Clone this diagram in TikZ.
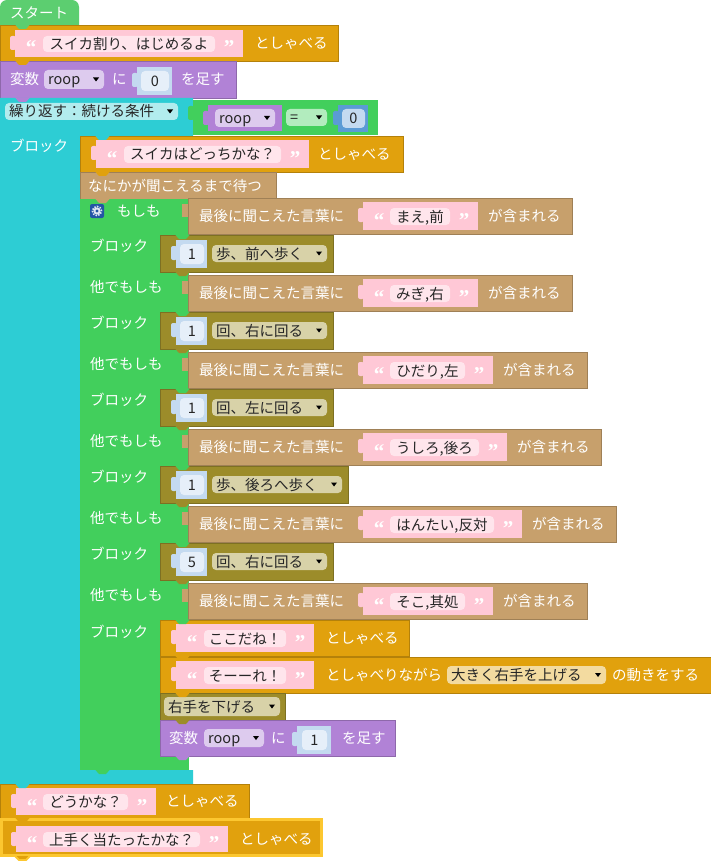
\documentclass[tikz,border=0pt]{standalone}
\usepackage{fontspec}
\setmainfont{Noto Sans CJK JP}
\newfontfamily\qfont{Liberation Serif}
\definecolor{cStart}{RGB}{92,206,112}
\definecolor{cOrange}{RGB}{225,161,13}
\definecolor{cPink}{RGB}{255,200,214}
\definecolor{cPinkF}{RGB}{255,229,236}
\definecolor{cPurple}{RGB}{177,130,214}
\definecolor{cPurpleF}{RGB}{221,203,238}
\definecolor{cCyan}{RGB}{45,205,212}
\definecolor{cCyanF}{RGB}{178,236,238}
\definecolor{cGreen}{RGB}{66,207,92}
\definecolor{cGreenF}{RGB}{178,236,190}
\definecolor{cTan}{RGB}{199,160,108}
\definecolor{cOlive}{RGB}{156,140,42}
\definecolor{cOliveF}{RGB}{216,210,168}
\definecolor{cNum}{RGB}{196,218,240}
\definecolor{cNumF}{RGB}{230,239,249}
\definecolor{cBlue}{RGB}{91,155,213}
\definecolor{cOrangeF}{RGB}{243,219,160}
\definecolor{cSel}{RGB}{252,199,48}
\definecolor{cGear}{RGB}{35,85,165}
\newcounter{nd}
\newcommand\xname{\stepcounter{nd}\edef\nn{n\arabic{nd}}}
% block rectangle
\newcommand\xblk[5]{\path[blk=#5] ({#1},{#2}) rectangle ({#3},{#4});}
% value block with left tab
\newcommand\xvblk[5]{\path[fill=#5,rounded corners=2pt] ({#1-5},{#2+6}) rectangle ({#1+1},{#2+20});\path[fill=#5] ({#1},{#2}) rectangle ({#3},{#4});}
% field with centred text
\newcommand\xfld[6]{\path[fill=#5,rounded corners=4pt] ({#1},{#2}) rectangle ({#3},{#4});\xname\node[ftext] (\nn) at ({(#1+#3)/2},{(#2+#4)/2}) {#6};}
% dropdown field
\newcommand\xdd[6]{\path[fill=#5,rounded corners=4pt] ({#1},{#2}) rectangle ({#3},{#4});\xname\node[ftext,anchor=west] (\nn) at ({#1+4},{(#2+#4)/2}) {#6};\fill[black] ({#3-11},{(#2+#4)/2-2}) -- ({#3-5},{(#2+#4)/2-2}) -- ({#3-8},{(#2+#4)/2+2}) -- cycle;}
% white label
\newcommand\xwl[3]{\xname\node[wtext] (\nn) at ({#1},{#2}) {#3};}
% quote mark
\newcommand\xqt[3]{\xname\node[qtext] (\nn) at ({#1},{#2+11.5}) {#3};}
% string block: pink left, y1, y2, field x1, field x2, text
\newcommand\xstr[6]{\xvblk{#1}{#2}{#5+28}{#3}{cPink}\xfld{#4}{#2+6}{#5}{#3-5}{cPinkF}{#6}\xqt{#1+16}{(#2+#3)/2}{“}\xqt{#5+14}{(#2+#3)/2}{”}}
% condition row: top, pink right, text
\newcommand\xcond[3]{\path[fill=cTan] (182,{#1+6}) rectangle (189,{#1+19});\xblk{188}{#1}{#2+94}{#1+36}{cTan}\xwl{199}{#1+18}{最後に聞こえた言葉に}\xstr{363}{#1+4}{#1+32}{390}{#2-28}{#3}\xwl{#2+10}{#1+18}{が含まれる}}
% olive action row: top, dropdown right, number, text
\newcommand\xorow[4]{\xblk{160}{#1}{#2+6}{#1+37}{cOlive}\xvblk{176}{#1+5}{207}{#1+33}{cNum}\xfld{180}{#1+9}{204}{#1+29}{cNumF}{#3}\xdd{212}{#1+10}{#2}{#1+27}{cOliveF}{#4}}
% next-connection tab
\newcommand\xtab[3]{\fill[#3] ({#1+15},{#2-0.5}) -- ({#1+19},{#2+4}) -- ({#1+26},{#2+4}) -- ({#1+30},{#2-0.5}) -- cycle;}
\begin{document}
\begin{tikzpicture}[x=1pt,y=-1pt,
  blk/.style={fill=#1,draw=#1!80!black,line width=0.7pt},
  wtext/.style={anchor=west,inner sep=0pt,text=white,text height=12.5pt,text depth=1.5pt,font=\fontsize{14.5}{17}\selectfont},
  ftext/.style={inner sep=0pt,text=black!85,text height=12.5pt,text depth=1.5pt,font=\fontsize{14.5}{17}\selectfont},
  qtext/.style={anchor=base,inner sep=0pt,text=white,font=\qfont\bfseries\fontsize{21}{23}\selectfont}]
\useasboundingbox (0,0) rectangle (711,861);
\fill[white] (0,0) rectangle (711,861);
% Start hat
\path[fill=cStart] (0,25) [rounded corners=7pt] -- (0,0) -- (79,0) [sharp corners] -- (79,25) -- cycle;
\xwl{10}{13}{スタート}
% say 1
\xblk{0}{25}{338}{61}{cOrange}
\xstr{15}{30}{57}{43}{215}{スイカ割り、はじめるよ}
\xwl{255}{43}{としゃべる}
% variable
\xblk{0}{61}{236}{98}{cPurple}
\xwl{10}{79.5}{変数}
\xdd{44}{70}{104}{89}{cPurpleF}{roop}
\xwl{112}{79.5}{に}
\xvblk{137}{67}{172}{95}{cNum}
\xfld{141}{71}{169}{91}{cNumF}{0}
\xwl{181}{79.5}{を足す}
% repeat loop
\fill[cCyan] (0,98) -- (193,98) -- (193,136) -- (80,136) -- (80,770) -- (193,770) -- (193,784) -- (0,784) -- cycle;
\xdd{5}{103}{178}{120}{cCyanF}{繰り返す：続ける条件}
\xvblk{193}{100}{378}{135}{cGreen}
\xvblk{208}{105}{282}{131}{cPurple}
\xdd{215}{109}{275}{127}{cPurpleF}{roop}
\xdd{286}{109}{327}{126}{cGreenF}{=}
\xvblk{338}{105}{368}{132}{cBlue}
\xfld{342}{109}{365}{128}{cNum}{0}
\xwl{10}{146}{ブロック}
% say 2
\xblk{80}{136}{403}{172}{cOrange}
\xstr{96}{140}{168}{124}{281}{スイカはどっちかな？}
\xwl{318}{154}{としゃべる}
% wait
\xblk{80}{172}{276}{199}{cTan}
\xwl{88}{185.5}{なにかが聞こえるまで待つ}
% if block
\fill[cGreen] (80,199) rectangle (189,770);
\fill[cGear,rounded corners=2pt] (90,204) rectangle (104,218);
\draw[white!85!cGear,line width=1.6pt,dash pattern=on 1.5pt off 1.3pt] (97,211) circle (4.6pt);
\fill[white!85!cGear] (97,211) circle (3.6pt);
\fill[cGear] (97,211) circle (1.6pt);
\xwl{117}{211}{もしも}
\xcond{198}{478}{まえ,前}
\xwl{90}{246}{ブロック}
\xorow{235}{327}{1}{歩、前へ歩く}
\xwl{90}{287}{他でもしも}
\xcond{275}{478}{みぎ,右}
\xwl{90}{323}{ブロック}
\xorow{312}{327}{1}{回、右に回る}
\xwl{90}{364}{他でもしも}
\xcond{352}{493}{ひだり,左}
\xwl{90}{400}{ブロック}
\xorow{389}{327}{1}{回、左に回る}
\xwl{90}{441}{他でもしも}
\xcond{429}{507}{うしろ,後ろ}
\xwl{90}{477}{ブロック}
\xorow{466}{342}{1}{歩、後ろへ歩く}
\xwl{90}{518}{他でもしも}
\xcond{506}{522}{はんたい,反対}
\xwl{90}{554}{ブロック}
\xorow{543}{327}{5}{回、右に回る}
\xwl{90}{595}{他でもしも}
\xcond{583}{493}{そこ,其処}
\xwl{90}{632}{ブロック}
% last statement stack
\xblk{160}{620}{409}{656}{cOrange}
\xstr{176}{624}{652}{204}{286}{ここだね！}
\xwl{326}{638}{としゃべる}
\xblk{160}{657}{712}{693}{cOrange}
\xstr{176}{661}{689}{204}{286}{そーーれ！}
\xwl{326}{675}{としゃべりながら}
\xdd{447}{666}{606}{684}{cOrangeF}{大きく右手を上げる}
\xwl{612}{675}{の動きをする}
\xblk{160}{693}{285}{720}{cOlive}
\xdd{164}{697}{280}{716}{cOliveF}{右手を下げる}
\xblk{160}{720}{395}{756}{cPurple}
\xwl{169}{738}{変数}
\xdd{204}{729}{264}{747}{cPurpleF}{roop}
\xwl{271}{738}{に}
\xvblk{297}{726}{331}{754}{cNum}
\xfld{302}{730}{327}{750}{cNumF}{1}
\xwl{342}{738}{を足す}
% bottom says
\xblk{0}{784}{249}{818}{cOrange}
\xstr{16}{788}{815}{43}{128}{どうかな？}
\xwl{166}{801}{としゃべる}
\xblk{0}{818}{321}{856}{cOrange}
\xstr{16}{826}{852}{43}{200}{上手く当たったかな？}
\xwl{240}{839}{としゃべる}
\draw[cSel,line width=3pt] (1.5,819.5) rectangle (321.5,855.5);
% connection tabs
\xtab{0}{25}{cStart}
\xtab{0}{61}{cOrange}
\xtab{0}{98}{cPurple}
\xtab{80}{136}{cCyan}
\xtab{80}{172}{cOrange}
\xtab{80}{199}{cTan}
\foreach \o in {235,312,389,466,543}{\xtab{160}{\o}{cGreen}\xtab{160}{\o+37}{cOlive}}
\xtab{160}{620}{cGreen}
\xtab{160}{656}{cOrange}
\xtab{160}{693}{cOrange}
\xtab{160}{720}{cOlive}
\xtab{160}{756}{cPurple}
\xtab{80}{770}{cGreen}
\xtab{0}{784}{cCyan}
\xtab{0}{818}{cOrange}
\draw[cSel,line width=2pt,fill=cOrange] (15,856) -- (19,860) -- (26,860) -- (30,856);
\end{tikzpicture}
\end{document}
